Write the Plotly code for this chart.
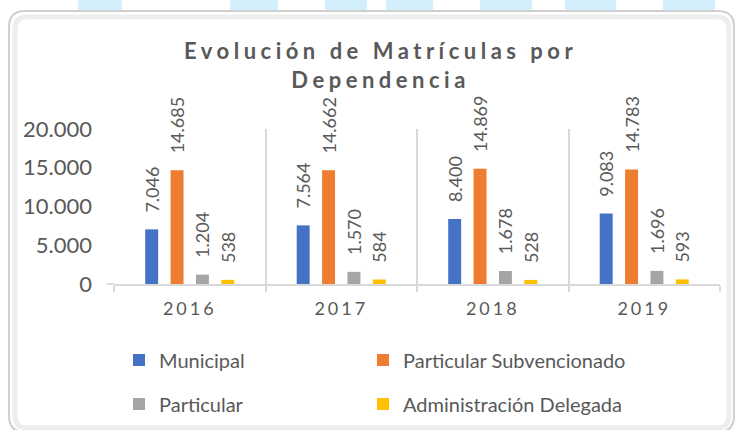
import plotly.graph_objects as go

# ---- data ----
categories = ["2016", "2017", "2018", "2019"]
municipal = [7046, 7564, 8400, 9083]
particular_subv = [14685, 14662, 14869, 14783]
particular = [1204, 1570, 1678, 1696]
adm_delegada = [538, 584, 528, 593]
series_names = ["Municipal", "Particular Subvencionado", "Particular", "Administración Delegada"]
series_colors = ["#4472C4", "#ED7D31", "#A5A5A5", "#FFC000"]
y_ticks = [0, 5000, 10000, 15000, 20000]

FIG_W, FIG_H = 738, 430
L, R, T, B = 114, 720, 129, 284
PW, PH = R - L, B - T
FONT = "Lato"
GREY = "#595959"
NB = "\u00a0"


def px(x):
    return (x - L) / PW


def py(y):
    return (B - y) / PH


def rrect(x1, y1, x2, y2, r):
    pts = [
        ("M", [(x1 + r, y1)]),
        ("L", [(x2 - r, y1)]),
        ("Q", [(x2, y1), (x2, y1 + r)]),
        ("L", [(x2, y2 - r)]),
        ("Q", [(x2, y2), (x2 - r, y2)]),
        ("L", [(x1 + r, y2)]),
        ("Q", [(x1, y2), (x1, y2 - r)]),
        ("L", [(x1, y1 + r)]),
        ("Q", [(x1, y1), (x1 + r, y1)]),
    ]
    s = ""
    for cmd, ps in pts:
        s += cmd + " ".join(f"{px(a):.5f},{py(b):.5f}" for a, b in ps) + " "
    return s + "Z"


fig = go.Figure()
values = [municipal, particular_subv, particular, adm_delegada]
legend_ids = ["legend", "legend2", "legend3", "legend4"]
for name, vals, col, lg in zip(series_names, values, series_colors, legend_ids):
    fig.add_trace(go.Bar(
        x=categories, y=vals, name=name, marker=dict(color=col, line=dict(width=0)),
        texttemplate=NB * 3 + "%{y:,.0f}", textposition="outside", textangle=-90,
        textfont=dict(family=FONT, size=18, color=GREY),
        constraintext="none", cliponaxis=False, legend=lg, showlegend=True,
    ))

shapes = []
# decorative light-blue strip at top
for x0, x1 in [(78, 122), (230, 278), (325, 367), (386, 433), (480, 532), (565, 616), (663, 715)]:
    shapes.append(dict(type="rect", xref="paper", yref="paper", x0=px(x0), x1=px(x1),
                       y0=py(0), y1=py(14), fillcolor="#D3EFFB", line=dict(width=0), layer="below"))
# card
shapes.append(dict(type="path", xref="paper", yref="paper", path=rrect(9, 11, 734, 432, 16),
                   fillcolor="white", line=dict(color="#CFCFCF", width=2), layer="below"))
shapes.append(dict(type="path", xref="paper", yref="paper", path=rrect(15, 17, 729, 428, 12),
                   fillcolor="rgba(0,0,0,0)", line=dict(color="rgba(0,0,0,0.07)", width=5), layer="below"))
# axis stub left of the first boundary
shapes.append(dict(type="line", xref="paper", yref="paper", x0=px(107), x1=0, y0=0, y1=0,
                   line=dict(color="#D9D9D9", width=2)))

legend_font = dict(family=FONT, size=20, color=GREY)
legend_pos = [(119, 360), (363, 360), (119, 404), (363, 404)]
legend_layout = {}
for lg, (lx, ly) in zip(legend_ids, legend_pos):
    legend_layout[lg] = dict(x=px(lx), y=py(ly), xanchor="left", yanchor="middle",
                             bgcolor="rgba(0,0,0,0)", font=legend_font, borderwidth=0,
                             visible=True)

fig.update_layout(
    width=FIG_W, height=FIG_H,
    margin=dict(l=L, r=FIG_W - R, t=T, b=FIG_H - B, pad=0, autoexpand=False),
    paper_bgcolor="white", plot_bgcolor="rgba(0,0,0,0)",
    separators=",.", showlegend=True,
    barmode="group", bargap=0.33, bargroupgap=0.49,
    font=dict(family=FONT, color=GREY),
    shapes=shapes,
    annotations=[dict(
        text='<span style="letter-spacing:4.5px">Evolución de Matrículas por<br>Dependencia</span>',
        xref="paper", yref="paper", x=px(380), y=py(65), xanchor="center", yanchor="middle",
        showarrow=False, font=dict(family=FONT, size=22, color=GREY, weight="bold"),
    )],
    **legend_layout,
)
fig.update_xaxes(
    type="category", tickson="boundaries", showgrid=True, gridcolor="#D9D9D9", gridwidth=2,
    showline=True, linecolor="#D9D9D9", linewidth=2,
    ticks="outside", ticklen=6, tickcolor="#D9D9D9", tickwidth=2,
    tickmode="array", tickvals=categories,
    ticktext=[f'<span style="letter-spacing:3px">{c}</span>' for c in categories],
    tickfont=dict(family=FONT, size=18, color=GREY), ticklabelstandoff=7,
)
fig.update_yaxes(
    range=[0, 20000], tickvals=y_ticks, tickformat=",.0f", showgrid=False, zeroline=False,
    showline=False, tickfont=dict(family=FONT, size=22, color=GREY), ticklabelstandoff=21,
)
fig.write_html("out.html", config={"displayModeBar": False},
               post_script="document.body.style.margin='0';")
